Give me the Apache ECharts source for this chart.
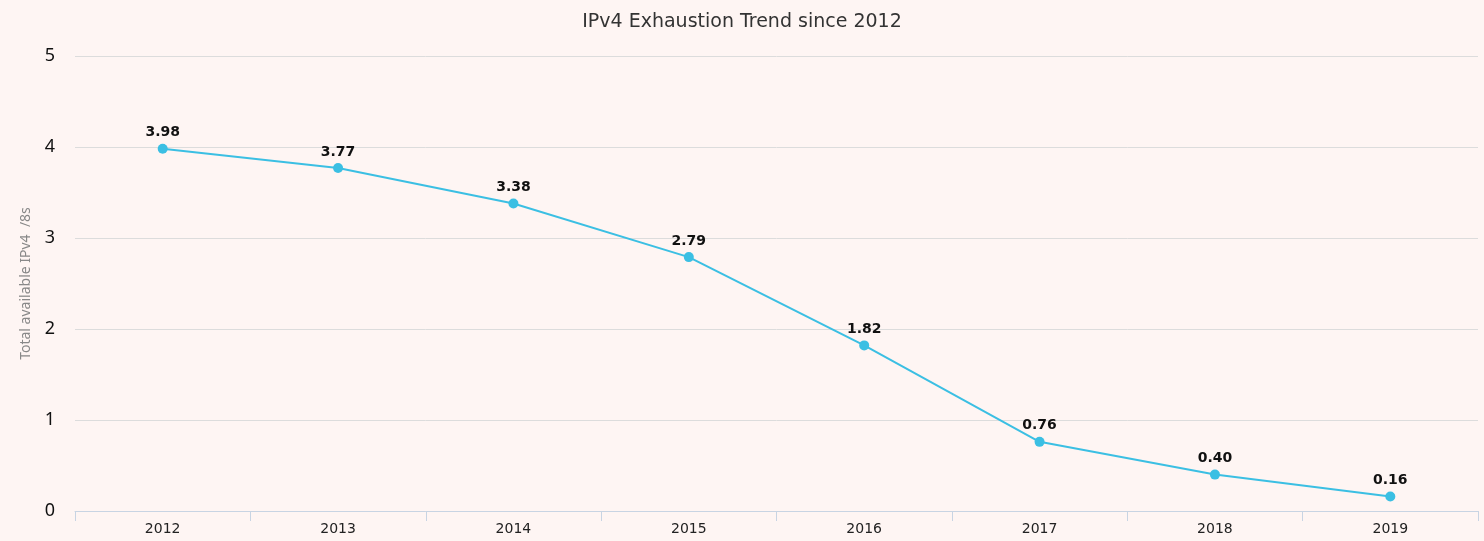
<!DOCTYPE html>
<html>
<head>
<meta charset="utf-8">
<script src="https://cdn.jsdelivr.net/npm/echarts@6/dist/echarts.min.js"></script>
<style>
  html, body { margin: 0; padding: 0; background: #fef5f3; }
  #chart { width: 1484px; height: 541px; }
</style>
</head>
<body>
<div id="chart"></div>
<script>
const years = ['2012', '2013', '2014', '2015', '2016', '2017', '2018', '2019']
const available = [3.98, 3.77, 3.38, 2.79, 1.82, 0.76, 0.40, 0.16]

const chart = echarts.init(document.getElementById('chart'))

chart.setOption({
  backgroundColor: '#fef5f3',
  title: {
    text: 'IPv4 Exhaustion Trend since 2012',
    left: 'center',
    top: 8,
    textStyle: { fontFamily: 'DejaVu Sans', fontSize: 19, fontWeight: 'normal', color: '#333' },
  },
  grid: { left: 75, right: 6, top: 56, bottom: 30 },
  xAxis: {
    type: 'category',
    data: years,
    boundaryGap: true,
    axisLine: { lineStyle: { color: '#c8d4e3' } },
    axisTick: { show: true, length: 10, lineStyle: { color: '#c8d4e3' } },
    axisLabel: { fontFamily: 'DejaVu Sans', fontSize: 14, color: '#222', margin: 11 },
  },
  yAxis: {
    type: 'value',
    min: 0,
    max: 5,
    interval: 1,
    name: 'Total available IPv4  /8s',
    nameLocation: 'middle',
    nameGap: 42,
    nameTextStyle: { fontFamily: 'Noto Sans', fontSize: 14, color: '#888' },
    axisLine: { show: false },
    axisTick: { show: false },
    axisLabel: { fontFamily: 'Noto Sans', fontSize: 18, color: '#111', margin: 20 },
    splitLine: { lineStyle: { color: '#dcdcdc' } },
  },
  series: [{
    type: 'line',
    data: available,
    symbol: 'circle',
    symbolSize: 10,
    lineStyle: { color: '#3bbfe3', width: 2 },
    itemStyle: { color: '#3bbfe3' },
    label: {
      show: true,
      position: 'top',
      distance: 4,
      formatter: (p) => p.value.toFixed(2),
      fontFamily: 'DejaVu Sans',
      fontSize: 14,
      fontWeight: 'bold',
      color: '#111',
    },
  }],
})
</script>
</body>
</html>
